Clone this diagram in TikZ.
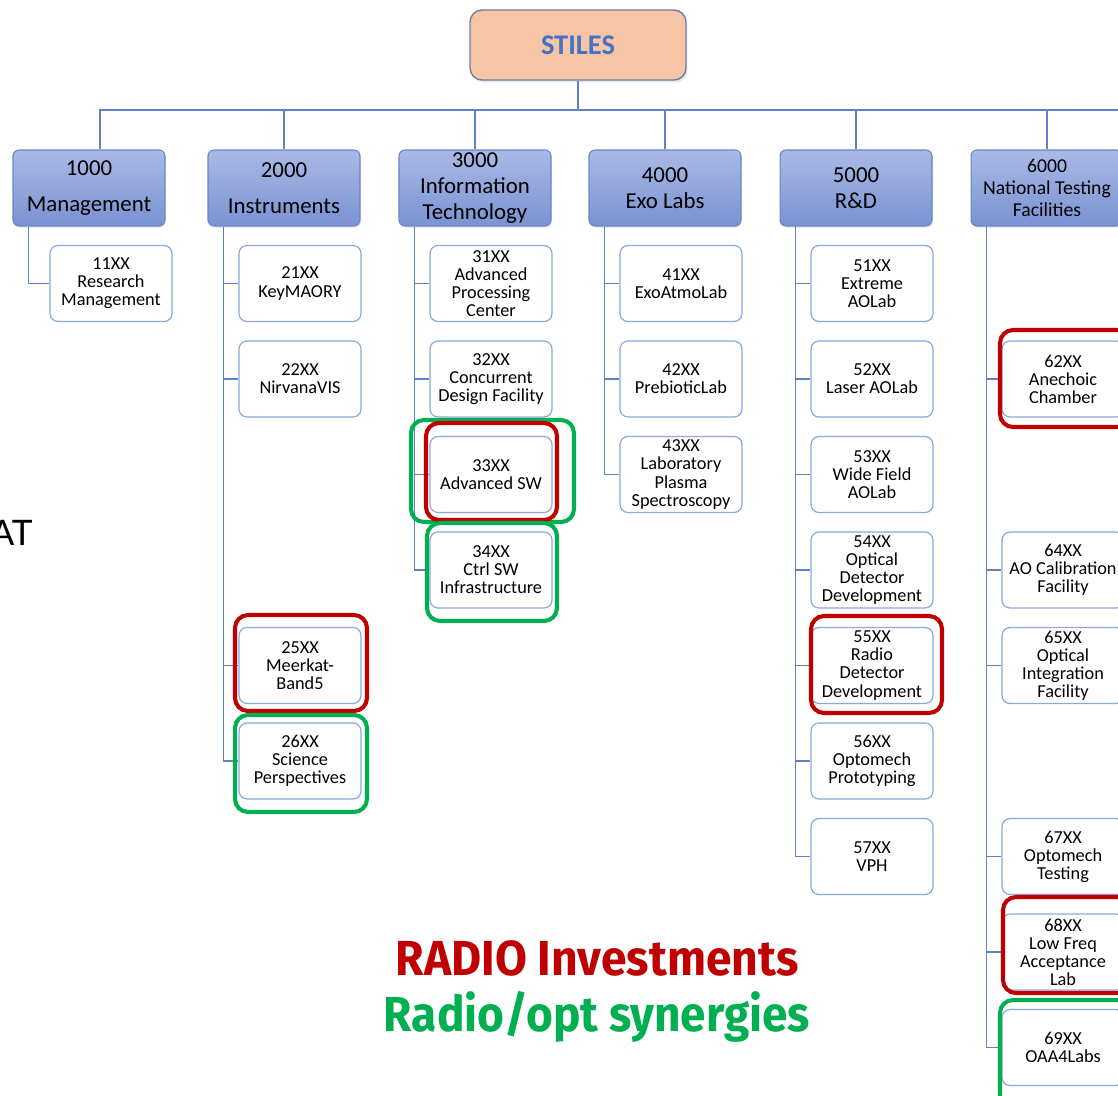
\documentclass[tikz,border=0pt]{standalone}
\usepackage{fontspec}
\setmainfont{Carlito}
\newfontfamily\bannerfont{Fira Sans}
\newfontfamily\sidefont{Lato}
\usepackage{tikz}
\usetikzlibrary{positioning, calc, shadows}
\definecolor{stilespeach}{RGB}{248,196,166}
\definecolor{stilesedge}{RGB}{110,126,170}
\definecolor{stilesblue}{RGB}{68,114,196}
\definecolor{hdtop}{RGB}{170,186,230}
\definecolor{hdbottom}{RGB}{122,146,210}
\definecolor{hdedge}{RGB}{104,132,198}
\definecolor{treeblue}{RGB}{98,128,196}
\definecolor{subedge}{RGB}{140,168,220}
\definecolor{radiored}{RGB}{192,0,0}
\definecolor{synergreen}{RGB}{0,176,80}
\tikzset{
  rootbox/.style={draw=stilesedge, line width=0.8pt, fill=stilespeach, rounded corners=0.24cm,
    minimum width=4.32cm, minimum height=1.4cm, inner sep=0pt,
    drop shadow={opacity=0.2, shadow xshift=0.03cm, shadow yshift=-0.05cm},
    font=\fontsize{16.2}{18}\selectfont\bfseries, text=stilesblue},
  hdbox/.style={draw=hdedge, line width=0.6pt, top color=hdtop, bottom color=hdbottom,
    rounded corners=0.12cm, minimum width=3.04cm, minimum height=1.52cm, inner sep=0pt,
    align=center, drop shadow={opacity=0.15, shadow xshift=0.02cm, shadow yshift=-0.04cm},
    font=\fontsize{13}{14.7}\selectfont},
  subbox/.style={draw=subedge, line width=0.7pt, fill=white, rounded corners=0.16cm,
    minimum width=2.44cm, minimum height=1.52cm, inner sep=0pt, align=center,
    font=\fontsize{10.4}{10.3}\selectfont},
  tree/.style={draw=treeblue, line width=0.8pt},
  radioring/.style={draw=radiored, line width=2.3pt, rounded corners=0.26cm},
  synring/.style={draw=synergreen, line width=2.3pt, rounded corners=0.26cm},
  legend/.style={font=\bannerfont\bfseries\fontsize{28}{30}\selectfont}
}

\begin{document}
\begin{tikzpicture}[x=0.02cm, y=-0.02cm]
  \useasboundingbox (0,0) rectangle (1118,1095);
  % Top of the tree
  \node[rootbox] (root) at (578,45) {STILES};
  \node[hdbox] (hd1) at (89,188) {1000\\[6pt]Management};
  \node[hdbox] (hd2) at (284,188) {2000\\[6pt]Instruments};
  \node[hdbox] (hd3) at (475,188) {3000\\Information\\Technology};
  \node[hdbox] (hd4) at (665,188) {4000\\Exo Labs};
  \node[hdbox] (hd5) at (856,188) {5000\\R\&D};
  \node[hdbox, font=\fontsize{11.2}{12.5}\selectfont] (hd6) at (1047,188) {6000\\National Testing\\Facilities};
  \coordinate (bus) at (578,110);
  \coordinate (busend) at (1118,110);
  \draw[tree] (root.south) -- (bus) -- (busend);
  \draw[tree] ([xshift=0.22cm]hd1.north) |- (bus);
  \foreach \h in {hd2,hd3,hd4,hd5,hd6}
    \draw[tree] (\h.north) |- (bus);

  % Sub-units
  \node[subbox] (s11) at (111,283.5) {11XX\\Research\\Management};
  \node[subbox] (s21) at (300,283.5) {21XX\\KeyMAORY};
  \node[subbox] (s22) at (300,379) {22XX\\NirvanaVIS};
  \node[subbox] (s25) at (300,665.5) {25XX\\Meerkat-\\Band5};
  \node[subbox] (s26) at (300,761) {26XX\\Science\\Perspectives};
  \node[subbox] (s31) at (491,283.5) {31XX\\Advanced\\Processing\\Center};
  \node[subbox] (s32) at (491,379) {32XX\\Concurrent\\Design Facility};
  \node[subbox] (s33) at (491,474.5) {33XX\\Advanced SW};
  \node[subbox] (s34) at (491,570) {34XX\\Ctrl SW\\Infrastructure};
  \node[subbox] (s41) at (681,283.5) {41XX\\ExoAtmoLab};
  \node[subbox] (s42) at (681,379) {42XX\\PrebioticLab};
  \node[subbox] (s43) at (681,474.5) {43XX\\Laboratory\\Plasma\\Spectroscopy};
  \node[subbox] (s51) at (872,283.5) {51XX\\Extreme\\AOLab};
  \node[subbox] (s52) at (872,379) {52XX\\Laser AOLab};
  \node[subbox] (s53) at (872,474.5) {53XX\\Wide Field\\AOLab};
  \node[subbox] (s54) at (872,570) {54XX\\Optical\\Detector\\Development};
  \node[subbox] (s55) at (872,665.5) {55XX\\Radio\\Detector\\Development};
  \node[subbox] (s56) at (872,761) {56XX\\Optomech\\Prototyping};
  \node[subbox] (s57) at (872,856.5) {57XX\\VPH};
  \node[subbox] (s62) at (1063,379) {62XX\\Anechoic\\Chamber};
  \node[subbox] (s64) at (1063,570) {64XX\\AO Calibration\\Facility};
  \node[subbox] (s65) at (1063,665.5) {65XX\\Optical\\Integration\\Facility};
  \node[subbox] (s67) at (1063,856.5) {67XX\\Optomech\\Testing};
  \node[subbox] (s68) at (1063,952) {68XX\\Low Freq\\Acceptance\\Lab};
  \node[subbox] (s69) at (1063,1047.5) {69XX\\OAA4Labs};
  \foreach \h/\s in {hd1/s11, hd2/s21, hd2/s22, hd2/s25, hd2/s26,
      hd3/s31, hd3/s32, hd3/s33, hd3/s34, hd4/s41, hd4/s42, hd4/s43,
      hd5/s51, hd5/s52, hd5/s53, hd5/s54, hd5/s55, hd5/s56, hd5/s57,
      hd6/s62, hd6/s64, hd6/s65, hd6/s67, hd6/s68, hd6/s69}
    \draw[tree] ($(\h.south west)+(16,0)$) |- (\s.west);

  % Highlights
  \draw[synring] (411,420) rectangle (574,522);
  \draw[radioring] (426,423) rectangle (557,520);
  \draw[synring] (427,523) rectangle (557,621);
  \draw[radioring] (235,615) rectangle (367,711);
  \draw[synring] (235,715) rectangle (367,812);
  \draw[radioring] (811,616) rectangle (942,713);
  \draw[radioring] (1000,330) rectangle (1130,427);
  \draw[radioring] (1003,897) rectangle (1130,993);
  \draw[synring] (1000,1000) rectangle (1130,1110);

  % Legend
  \node[legend, text=radiored] (leg1) at (597,958) {\scalebox{0.94}[1]{RADIO Investments}};
  \node[legend, text=synergreen] (leg2) at (597,1017) {\scalebox{0.935}[1]{Radio/opt synergies}};
  \node[font=\sidefont\fontsize{20}{22}\selectfont, anchor=base east, inner sep=0pt] (side) at (33,545) {AT};
\end{tikzpicture}
\end{document}
